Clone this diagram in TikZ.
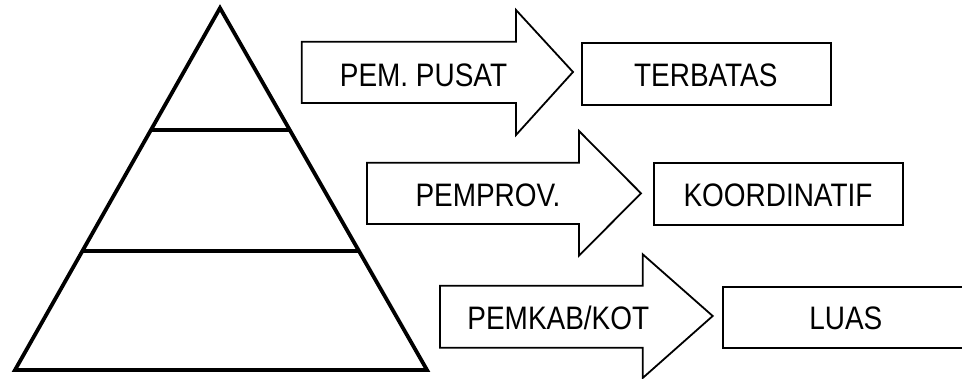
\documentclass[tikz,border=0pt]{standalone}
\usepackage{fontspec}
\setmainfont[FakeStretch=0.86]{Liberation Sans}
\usetikzlibrary{calc}
\tikzset{
  pyr/.style={line width=3.8pt, line join=miter},
  arr/.style={draw=black, line width=1.8pt, line join=miter, fill=white},
  outbox/.style={draw=black, line width=1.8pt, fill=white},
  lbl/.style={anchor=base, inner sep=0pt, font=\fontsize{32.5}{36}\selectfont}
}
\begin{document}
\begin{tikzpicture}[x=1pt, y=-1pt]
\useasboundingbox (0,0) rectangle (962,379);
\clip (0,0) rectangle (962,379);
\fill[white] (0,0) rectangle (962,379);
% pyramid
\coordinate (apex) at (220,8);
\coordinate (bl) at (15,370);
\coordinate (br) at (427,370);
\draw[pyr] (apex) -- (bl) -- (br) -- cycle;
\draw[pyr] ($(apex)!0.337!(bl)$) coordinate (l1a) -- ($(apex)!0.337!(br)$) coordinate (l1b);
\draw[pyr] ($(apex)!0.671!(bl)$) coordinate (l2a) -- ($(apex)!0.671!(br)$) coordinate (l2b);
% arrow 1
\draw[arr] (301.7,41.7) -- (516,41.7) -- (516,10) -- (573,72) -- (516,135) -- (516,103) -- (301.7,103) -- cycle;
\node[lbl] (a1) at (423.5,86.7) {PEM. PUSAT};
% arrow 2
\draw[arr] (367,162.7) -- (579,162.7) -- (579,131) -- (641,193.3) -- (579,255.7) -- (579,224) -- (367,224) -- cycle;
\node[lbl] (a2) at (488,206.7) {PEMPROV.};
% arrow 3
\draw[arr] (440,285.7) -- (642.7,285.7) -- (642.7,254.3) -- (712.7,316) -- (642.7,378) -- (642.7,347.7) -- (440,347.7) -- cycle;
\node[lbl] (a3) at (558.3,330) {PEMKAB/KOT};
% boxes
\draw[outbox] (581.7,42.7) rectangle (831,105);
\node[lbl] (b1) at (705.8,86.7) {TERBATAS};
\draw[outbox] (654.3,163.3) rectangle (902.7,225);
\node[lbl] (b2) at (778,206.7) {KOORDINATIF};
\draw[outbox] (722.7,286.7) rectangle (975,348);
\node[lbl] (b3) at (845.8,329.5) {LUAS};
\end{tikzpicture}
\end{document}
